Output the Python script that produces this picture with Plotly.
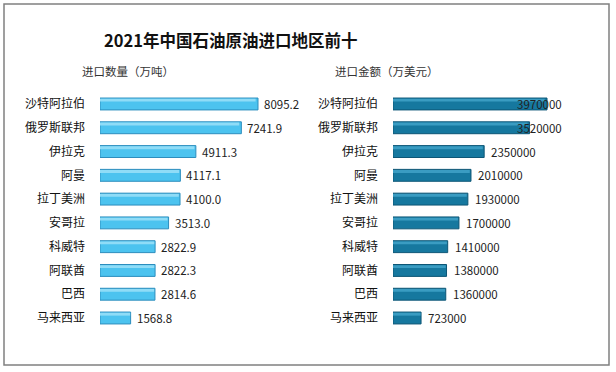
import plotly.graph_objects as go

W, H = 616, 372

countries = ["沙特阿拉伯", "俄罗斯联邦", "伊拉克", "阿曼", "拉丁美洲", "安哥拉", "科威特", "阿联酋", "巴西", "马来西亚"]
volume = [8095.2, 7241.9, 4911.3, 4117.1, 4100.0, 3513.0, 2822.9, 2822.3, 2814.6, 1568.8]
volume_labels = ["8095.2", "7241.9", "4911.3", "4117.1", "4100.0", "3513.0", "2822.9", "2822.3", "2814.6", "1568.8"]
amount = [3970000, 3520000, 2350000, 2010000, 1930000, 1700000, 1410000, 1380000, 1360000, 723000]
amount_labels = [str(v) for v in amount]

title = "2021年中国石油原油进口地区前十"
sub_left = "进口数量（万吨）"
sub_right = "进口金额（万美元）"

FONT = "Microsoft YaHei, Noto Sans CJK SC, sans-serif"

# layout geometry (pixels)
L_x0, L_x1 = 100, 300
R_x0, R_x1 = 393, 564
y_top, y_bot = 92.1, 329.9
L_range = [0, 10247]
R_range = [0, 4408000]

fig = go.Figure()

def add_bars(x, xa, ya, base_col, line_col, hi_col):
    fig.add_trace(go.Bar(
        x=x, y=countries, orientation="h", xaxis=xa, yaxis=ya,
        width=0.5, marker=dict(color=base_col, line=dict(color=line_col, width=1)),
        showlegend=False, hoverinfo="skip"))
    fig.add_trace(go.Bar(
        x=[v * 0.985 for v in x], y=countries, orientation="h", xaxis=xa, yaxis=ya,
        width=0.12, offset=-0.22, marker=dict(color=hi_col, line=dict(width=0)),
        showlegend=False, hoverinfo="skip"))

add_bars(volume, "x", "y", "#4cc3ef", "#2c8dbd", "#8fdcf7")
add_bars(amount, "x2", "y2", "#16789f", "#0d5676", "#3a9cc2")

ydom = [1 - y_bot / H, 1 - y_top / H]
common_y = dict(
    type="category", categoryorder="array", categoryarray=countries,
    range=[9.5, -0.5], domain=ydom, showline=False, showgrid=False, zeroline=False,
    ticks="", ticklabelstandoff=14,
    tickfont=dict(family=FONT, size=12, color="#111111"))
common_x = dict(visible=False, showgrid=False, zeroline=False, fixedrange=True)

fig.update_layout(
    width=W, height=H, margin=dict(l=0, r=0, t=0, b=0),
    paper_bgcolor="white", plot_bgcolor="rgba(0,0,0,0)",
    barmode="overlay",
    xaxis=dict(domain=[L_x0 / W, L_x1 / W], range=L_range, **common_x),
    xaxis2=dict(domain=[R_x0 / W, R_x1 / W], range=R_range, **common_x),
    yaxis=dict(anchor="x", **common_y),
    yaxis2=dict(anchor="x2", **common_y),
)

ann = []
label_font = dict(family=FONT, size=11.5, color="#222222")
for c, v, t in zip(countries, volume, volume_labels):
    ann.append(dict(x=v, y=c, xref="x", yref="y", text=t, showarrow=False,
                    xanchor="left", xshift=4, font=label_font))
R_px_per = (R_x1 - R_x0) / R_range[1]
for c, v, t in zip(countries, amount, amount_labels):
    end_px = R_x0 + v * R_px_per
    if end_px + 5 + 44 > R_x1:
        ann.append(dict(x=R_range[1], y=c, xref="x2", yref="y2", text=t, showarrow=False,
                        xanchor="right", font=label_font))
    else:
        ann.append(dict(x=v, y=c, xref="x2", yref="y2", text=t, showarrow=False,
                        xanchor="left", xshift=5, font=label_font))

ann.append(dict(x=230 / W, y=1 - 39.5 / H, xref="paper", yref="paper", text="<b>" + title + "</b>",
                showarrow=False, xanchor="center", yanchor="middle",
                font=dict(family=FONT, size=16.5, color="#111111")))
ann.append(dict(x=80 / W, y=1 - 71 / H, xref="paper", yref="paper", text=sub_left,
                showarrow=False, xanchor="left", yanchor="middle",
                font=dict(family=FONT, size=11.5, color="#333333")))
ann.append(dict(x=333 / W, y=1 - 71 / H, xref="paper", yref="paper", text=sub_right,
                showarrow=False, xanchor="left", yanchor="middle",
                font=dict(family=FONT, size=11.5, color="#333333")))
fig.update_layout(annotations=ann)

fig.add_shape(type="rect", xref="paper", yref="paper",
              x0=4 / W, x1=609 / W, y0=1 - 365 / H, y1=1 - 4 / H,
              line=dict(color="#808080", width=1.5), fillcolor="rgba(0,0,0,0)")

fig.write_html("out.html", config={"displayModeBar": False, "staticPlot": True},
               post_script="document.body.style.margin='0';document.body.style.overflow='hidden';")
